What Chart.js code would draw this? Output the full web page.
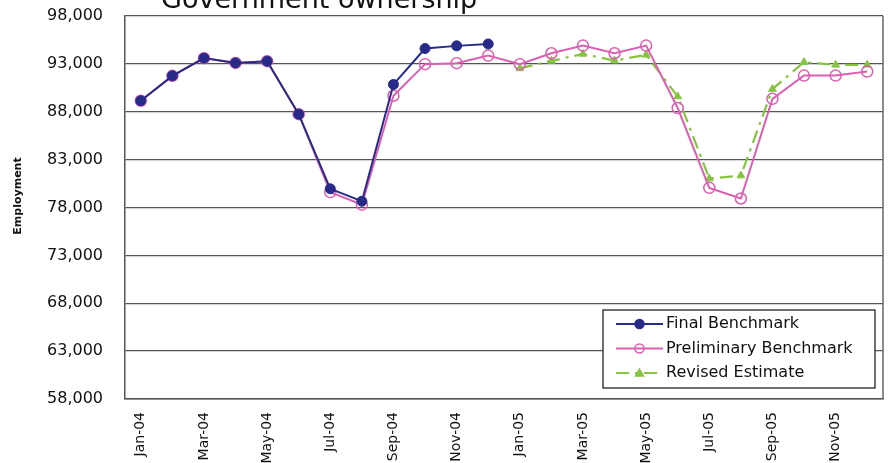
<!DOCTYPE html>
<html>
<head>
<meta charset="utf-8">
<script src="https://cdn.jsdelivr.net/npm/chart.js@4.4.1/dist/chart.umd.min.js"></script>
<style>
  html, body { margin: 0; padding: 0; background: #fff; }
  #wrap { width: 890px; height: 463px; position: relative; }
</style>
</head>
<body>
<div id="wrap"><canvas id="empChart"></canvas></div>
<script>
// monthly employment, Jan 2004 - Dec 2005
const months = ['Jan-04', 'Feb-04', 'Mar-04', 'Apr-04', 'May-04', 'Jun-04',
                'Jul-04', 'Aug-04', 'Sep-04', 'Oct-04', 'Nov-04', 'Dec-04',
                'Jan-05', 'Feb-05', 'Mar-05', 'Apr-05', 'May-05', 'Jun-05',
                'Jul-05', 'Aug-05', 'Sep-05', 'Oct-05', 'Nov-05', 'Dec-05'];

const finalBenchmark = [89150, 91750, 93600, 93100, 93280, 87750,
                        79950, 78650, 90850, 94600, 94880, 95080,
                        null, null, null, null, null, null,
                        null, null, null, null, null, null];

const preliminaryBenchmark = [89150, 91750, 93600, 93100, 93280, 87750,
                              79600, 78300, 89670, 92970, 93070, 93870,
                              92970, 94110, 94910, 94110, 94910, 88390,
                              80050, 78940, 89350, 91780, 91780, 92200];

const revisedEstimate = [null, null, null, null, null, null,
                         null, null, null, null, null, null,
                         92530, 93310, 94040, 93340, 93940, 89590,
                         81020, 81330, 90370, 93180, 92900, 92900];

const yMin = 58000, yMax = 98000, yStep = 5000;

const chartTitle = 'Government ownership';
const yTitle = 'Employment';

// title half off the top edge, axis title, right border and the legend box
const extras = {
  id: 'extras',
  beforeDatasetsDraw(chart) {
    const { ctx, chartArea: a } = chart;
    ctx.save();
    ctx.strokeStyle = '#666';
    ctx.lineWidth = 1.5;
    ctx.beginPath();
    ctx.moveTo(a.right, a.top);
    ctx.lineTo(a.right, a.bottom);
    ctx.stroke();
    ctx.restore();
  },
  afterDraw(chart) {
    const { ctx, chartArea: a } = chart;
    ctx.save();
    ctx.fillStyle = '#111';
    ctx.font = '27px "DejaVu Sans"';
    ctx.textBaseline = 'alphabetic';
    ctx.fillText(chartTitle, 161, 8);

    ctx.save();
    ctx.translate(18, 196);
    ctx.rotate(-Math.PI / 2);
    ctx.font = 'bold 11px "DejaVu Sans"';
    ctx.textAlign = 'center';
    ctx.textBaseline = 'middle';
    ctx.fillText(yTitle, 0, 0);
    ctx.restore();

    const w = 272, h = 78;
    const x = a.right - 8 - w, y = a.bottom - 11 - h;
    ctx.fillStyle = '#fff';
    ctx.fillRect(x, y, w, h);
    ctx.strokeStyle = '#111';
    ctx.lineWidth = 1.2;
    ctx.strokeRect(x, y, w, h);

    ctx.font = '16px "DejaVu Sans"';
    ctx.textBaseline = 'middle';
    chart.data.datasets.forEach((ds, i) => {
      const cy = y + 14 + i * 24.5;
      const x0 = x + 13, x1 = x + 60, mx = (x0 + x1) / 2;
      ctx.strokeStyle = ds.borderColor;
      ctx.lineWidth = ds.borderWidth;
      ctx.setLineDash(ds.borderDash || []);
      ctx.beginPath();
      ctx.moveTo(x0, cy);
      ctx.lineTo(x1, cy);
      ctx.stroke();
      ctx.setLineDash([]);
      ctx.fillStyle = ds.pointBackgroundColor;
      ctx.strokeStyle = ds.pointBorderColor;
      ctx.lineWidth = 1.5;
      ctx.beginPath();
      if (ds.pointStyle === 'triangle') {
        const r = 4;
        ctx.moveTo(mx, cy - r);
        ctx.lineTo(mx + r, cy + r * 0.75);
        ctx.lineTo(mx - r, cy + r * 0.75);
        ctx.closePath();
      } else {
        ctx.arc(mx, cy, 4.5, 0, Math.PI * 2);
      }
      ctx.fill();
      ctx.stroke();
      ctx.fillStyle = '#111';
      ctx.fillText(ds.label, x1 + 3, cy);
    });
    ctx.restore();
  }
};

new Chart(document.getElementById('empChart'), {
  type: 'line',
  data: {
    labels: months,
    datasets: [
      {
        label: 'Final Benchmark',
        data: finalBenchmark,
        borderColor: '#272a88',
        borderWidth: 2,
        pointStyle: 'circle',
        pointRadius: 5,
        pointBackgroundColor: '#272a88',
        pointBorderColor: '#272a88',
        pointBorderWidth: 1
      },
      {
        label: 'Preliminary Benchmark',
        data: preliminaryBenchmark,
        borderColor: '#db5fb2',
        borderWidth: 2,
        pointStyle: 'circle',
        pointRadius: 5.5,
        pointBackgroundColor: 'rgba(255,255,255,0)',
        pointBorderColor: '#db5fb2',
        pointBorderWidth: 1.5
      },
      {
        label: 'Revised Estimate',
        data: revisedEstimate,
        borderColor: '#86c440',
        borderWidth: 2.2,
        borderDash: [13, 6, 3, 6],
        pointStyle: 'triangle',
        pointRadius: 4.5,
        pointBackgroundColor: '#86c440',
        pointBorderColor: '#86c440',
        pointBorderWidth: 1
      }
    ]
  },
  options: {
    responsive: true,
    maintainAspectRatio: false,
    animation: false,
    layout: { padding: { left: 8, right: -3, top: 16, bottom: 0 } },
    plugins: {
      legend: { display: false },
      tooltip: { enabled: false }
    },
    scales: {
      x: {
        offset: true,
        grid: { display: false, drawTicks: false },
        border: { display: true, color: '#555', width: 1.5 },
        ticks: {
          autoSkip: false,
          minRotation: 90,
          maxRotation: 90,
          padding: 13,
          color: '#111',
          font: { family: 'DejaVu Sans', size: 14 },
          callback: function (val, i) {
            return i % 2 === 0 ? this.getLabelForValue(val) : '';
          }
        },
        afterFit: s => {
          s.height = 64;
          s.paddingLeft = 0;
          s.paddingRight = 0;
        }
      },
      y: {
        min: yMin,
        max: yMax,
        grid: { color: '#555', lineWidth: 1.3, drawTicks: false },
        border: { display: true, color: '#555', width: 1.5 },
        ticks: {
          stepSize: yStep,
          padding: 22,
          color: '#111',
          font: { family: 'DejaVu Sans', size: 16 },
          callback: v => v.toLocaleString('en-US')
        },
        afterFit: s => {
          s.width = 117;
          s.paddingTop = 0;
          s.paddingBottom = 0;
        }
      }
    }
  },
  plugins: [extras]
});
</script>
</body>
</html>
